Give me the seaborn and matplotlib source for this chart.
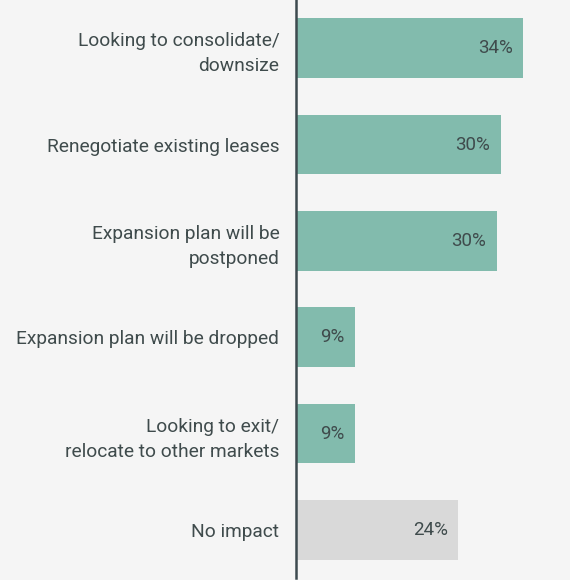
import pandas as pd
import numpy as np
import seaborn as sns
import matplotlib.pyplot as plt

# Data
categories = [
    "Looking to consolidate/\ndownsize",
    "Renegotiate existing leases",
    "Expansion plan will be\npostponed",
    "Expansion plan will be dropped",
    "Looking to exit/\nrelocate to other markets",
    "No impact",
]
shares = [34.0, 30.7, 30.1, 8.9, 8.9, 24.3]
share_labels = ["34%", "30%", "30%", "9%", "9%", "24%"]
groups = ["impact", "impact", "impact", "impact", "impact", "none"]

df = pd.DataFrame({"category": categories, "share": shares, "group": groups})

bg = "#f5f5f5"
text_col = "#3f4b4c"

sns.set_theme(style="white")
plt.rcParams["font.family"] = ["Roboto", "DejaVu Sans"]

fig = plt.figure(figsize=(5.7, 5.8), dpi=100, facecolor=bg)
ax = fig.add_axes([296 / 570, 2 / 580, 274 / 570, 578 / 580])
ax.set_facecolor(bg)

sns.barplot(
    data=df,
    x="share",
    y="category",
    hue="group",
    palette={"impact": "#82bbad", "none": "#d9d9d9"},
    saturation=1,
    linewidth=0,
    width=0.62,
    orient="h",
    dodge=False,
    legend=False,
    ax=ax,
)

ax.set_xlim(0, 41)
ax.set_ylim(5.5, -0.5)

# value labels inside bars
for i, (v, lab) in enumerate(zip(shares, share_labels)):
    ax.text(v - 1.6, i, lab, ha="right", va="center",
            fontsize=13.5, color=text_col)

# category labels to the left of the axis
ax.set_yticks(range(len(categories)))
ax.set_yticklabels(categories, fontsize=13.8, color=text_col,
                   ha="right", linespacing=1.5)
ax.tick_params(axis="y", length=0, pad=12)
ax.set_xticks([])
ax.set_xlabel("")
ax.set_ylabel("")

for s in ["top", "right", "bottom"]:
    ax.spines[s].set_visible(False)
ax.spines["left"].set_color("#3d4a4f")
ax.spines["left"].set_linewidth(1.8)

fig.savefig("out.png", dpi=100, facecolor=bg)
